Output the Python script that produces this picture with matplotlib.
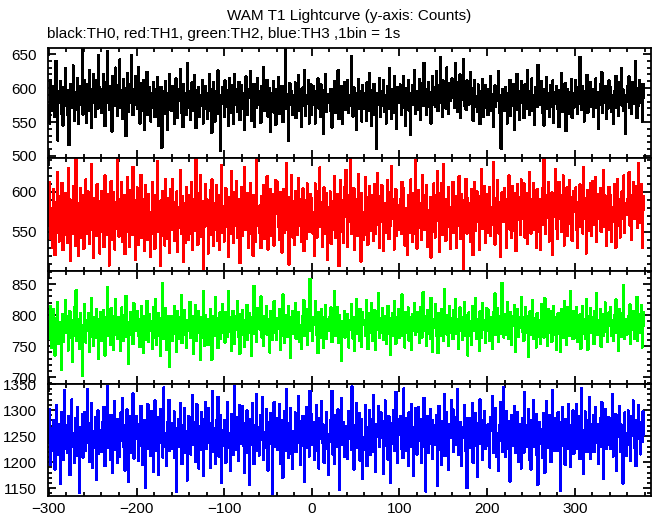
import matplotlib
matplotlib.use("Agg")
import matplotlib.pyplot as plt
from matplotlib.ticker import MultipleLocator
import numpy as np

# WAM T1 lightcurve, 1 bin = 1 s, time from -300 s
t_start = -300

th0 = [
    575, 548, 612, 566, 591, 603, 557, 584, 640, 571, 523, 596, 579, 610, 562, 588, 545, 601, 574, 629,
    583, 560, 597, 516, 578, 606, 589, 571, 633, 552, 594, 580, 568, 615, 547, 586, 603, 575, 659, 561,
    590, 612, 574, 549, 605, 583, 627, 566, 598, 541, 579, 620, 593, 557, 612, 585, 570, 648, 602, 576,
    563, 599, 621, 587, 544, 609, 578, 655, 592, 568, 603, 585, 536, 617, 596, 574, 630, 581, 559, 604,
    588, 642, 571, 597, 555, 613, 584, 600, 529, 591, 622, 565, 606, 579, 649, 587, 560, 598, 575, 618,
    594, 570, 631, 582, 548, 607, 589, 566, 612, 538, 596, 578, 624, 560, 585, 602, 551, 593, 571, 609,
    580, 557, 598, 574, 616, 545, 587, 569, 602, 512, 583, 595, 562, 610, 577, 539, 593, 568, 621, 584,
    566, 603, 579, 547, 590, 614, 572, 556, 598, 581, 628, 563, 589, 543, 606, 575, 592, 560, 637, 586,
    571, 595, 553, 608, 584, 566, 619, 578, 541, 597, 583, 602, 558, 590, 574, 612, 548, 585, 603, 569,
    592, 555, 581, 620, 567, 598, 534, 586, 609, 573, 551, 596, 580, 626, 562, 589, 507, 577, 601, 584,
    558, 611, 586, 572, 597, 544, 615, 579, 563, 604, 590, 547, 621, 576, 598, 565, 587, 609, 553, 580,
    604, 569, 592, 538, 583, 617, 574, 560, 599, 586, 625, 552, 591, 578, 606, 543, 588, 571, 614, 596,
    575, 590, 549, 603, 582, 631, 566, 596, 572, 612, 558, 584, 600, 535, 593, 579, 610, 564, 588, 546,
    598, 581, 616, 562, 587, 573, 603, 550, 594, 578, 658, 569, 591, 522, 585, 607, 576, 596, 561, 589,
    572, 608, 556, 592, 580, 619, 567, 598, 543, 584, 601, 574, 627, 559, 590, 577, 612, 548, 586, 605,
    561, 589, 603, 575, 548, 596, 582, 614, 570, 593, 557, 605, 586, 533, 597, 580, 621, 565, 591, 578,
    586, 567, 599, 542, 588, 576, 610, 563, 594, 581, 626, 554, 590, 572, 603, 547, 584, 609, 568, 595,
    579, 612, 563, 590, 574, 647, 583, 558, 601, 575, 592, 539, 586, 613, 569, 596, 580, 551, 604, 587,
    570, 593, 552, 608, 585, 566, 622, 578, 544, 597, 583, 606, 561, 589, 510, 592, 576, 615, 557, 584,
    596, 574, 611, 565, 590, 548, 603, 587, 570, 629, 581, 555, 598, 576, 617, 563, 589, 540, 601, 578,
    583, 605, 560, 594, 579, 618, 571, 545, 600, 586, 612, 567, 593, 531, 587, 604, 575, 626, 562, 590,
    568, 596, 582, 613, 553, 589, 607, 574, 637, 580, 598, 561, 586, 609, 572, 594, 548, 583, 618, 576,
    601, 573, 625, 589, 566, 604, 579, 645, 592, 557, 611, 584, 598, 570, 630, 588, 562, 607, 581, 595,
    614, 586, 599, 571, 636, 593, 565, 608, 580, 620, 556, 597, 583, 642, 574, 601, 568, 611, 589, 576,
    590, 623, 577, 600, 552, 594, 612, 573, 588, 565, 605, 582, 547, 596, 579, 613, 558, 587, 604, 571,
    584, 560, 598, 578, 617, 566, 591, 543, 586, 604, 572, 595, 581, 625, 563, 590, 511, 582, 599, 575,
    566, 602, 581, 548, 593, 575, 612, 559, 588, 574, 606, 539, 592, 580, 621, 568, 596, 553, 585, 610,
    578, 591, 556, 605, 584, 570, 627, 582, 561, 596, 579, 614, 567, 590, 546, 601, 587, 572, 634, 583,
    597, 575, 610, 563, 589, 545, 599, 581, 616, 570, 593, 558, 604, 585, 572, 611, 549, 594, 577, 603,
    569, 588, 543, 597, 580, 622, 565, 591, 574, 607, 537, 585, 599, 562, 594, 578, 613, 556, 587, 571,
    593, 612, 580, 562, 601, 577, 646, 589, 568, 603, 584, 551, 596, 575, 619, 564, 590, 582, 609, 573,
    581, 557, 599, 586, 614, 571, 594, 540, 588, 606, 576, 623, 563, 592, 579, 603, 554, 587, 570, 611,
    576, 601, 565, 590, 547, 596, 583, 618, 571, 594, 559, 608, 585, 629, 574, 598, 566, 589, 533, 580,
    603, 585, 617, 571, 594, 562, 609, 588, 577, 640, 583, 556, 600, 574, 612, 579, 595, 551, 606, 586,
]

th1 = [
    558, 612, 541, 579, 530, 603, 566, 521, 587, 549, 624, 570, 538, 594, 555, 611, 527, 582, 546, 598,
    573, 536, 629, 561, 590, 514, 577, 548, 607, 565, 532, 641, 553, 586, 520, 571, 604, 543, 596, 562,
    529, 583, 615, 547, 568, 600, 535, 579, 552, 634, 561, 518, 592, 574, 545, 609, 557, 588, 523, 576,
    601, 550, 566, 531, 620, 584, 546, 597, 563, 508, 580, 613, 540, 571, 599, 528, 587, 554, 642, 569,
    544, 591, 575, 612, 537, 560, 596, 522, 583, 550, 618, 565, 531, 602, 578, 546, 631, 559, 589, 515,
    567, 605, 534, 578, 553, 621, 542, 590, 570, 526, 608, 557, 585, 540, 597, 563, 519, 574, 612, 548,
    584, 529, 596, 561, 638, 550, 572, 507, 589, 545, 601, 576, 533, 615, 558, 592, 541, 579, 524, 603,
    552, 616, 570, 539, 587, 563, 600, 525, 581, 555, 627, 547, 594, 568, 512, 585, 536, 606, 571, 540,
    595, 548, 581, 612, 527, 566, 590, 551, 641, 573, 534, 598, 560, 620, 544, 579, 503, 588, 556, 609,
    563, 590, 523, 574, 602, 546, 615, 569, 532, 586, 553, 608, 539, 575, 596, 527, 563, 633, 549, 582,
    538, 571, 604, 556, 585, 519, 593, 547, 626, 567, 580, 536, 599, 558, 613, 542, 574, 590, 511, 561,
    606, 545, 577, 631, 552, 589, 562, 598, 530, 575, 611, 548, 583, 520, 596, 569, 537, 640, 557, 579,
    549, 583, 530, 594, 566, 608, 541, 576, 555, 619, 528, 587, 561, 603, 545, 578, 597, 533, 572, 614,
    577, 612, 556, 540, 599, 571, 524, 586, 603, 549, 568, 635, 552, 580, 509, 593, 560, 621, 543, 588,
    534, 567, 601, 579, 546, 617, 558, 591, 537, 573, 604, 526, 589, 564, 541, 610, 576, 550, 597, 565,
    592, 548, 574, 520, 610, 583, 543, 601, 568, 630, 556, 587, 531, 578, 605, 547, 572, 598, 515, 581,
    561, 600, 535, 588, 553, 574, 619, 542, 583, 562, 597, 507, 571, 614, 550, 589, 536, 605, 568, 627,
    583, 531, 596, 563, 642, 547, 579, 558, 604, 527, 590, 570, 545, 622, 560, 584, 513, 598, 575, 540,
    546, 618, 570, 593, 534, 581, 607, 551, 576, 596, 539, 564, 609, 548, 586, 623, 559, 530, 594, 572,
    608, 562, 526, 585, 571, 549, 614, 580, 541, 599, 557, 632, 566, 590, 528, 575, 603, 545, 583, 552,
    571, 590, 547, 612, 558, 604, 533, 579, 565, 521, 596, 583, 549, 615, 571, 537, 598, 561, 639, 546,
    529, 574, 602, 555, 586, 540, 621, 569, 595, 552, 583, 608, 531, 577, 562, 593, 518, 587, 550, 610,
    596, 543, 581, 626, 564, 598, 525, 572, 610, 546, 634, 568, 591, 539, 584, 556, 605, 573, 529, 580,
    560, 612, 549, 577, 594, 530, 583, 557, 619, 574, 541, 597, 565, 502, 589, 576, 616, 548, 592, 567,
    585, 537, 603, 566, 521, 589, 612, 551, 578, 600, 563, 527, 594, 581, 628, 554, 570, 607, 536, 597,
    549, 594, 572, 606, 545, 580, 559, 637, 566, 534, 592, 575, 614, 548, 587, 519, 571, 599, 562, 583,
    604, 568, 530, 591, 577, 620, 553, 586, 542, 607, 570, 551, 598, 526, 581, 609, 565, 593, 546, 615,
    566, 589, 610, 543, 572, 598, 535, 563, 624, 579, 548, 590, 573, 611, 552, 584, 530, 603, 576, 550,
    591, 527, 575, 604, 559, 641, 582, 547, 596, 567, 612, 538, 580, 557, 599, 521, 586, 569, 628, 554,
    541, 583, 612, 566, 596, 550, 578, 620, 533, 589, 564, 605, 545, 578, 614, 560, 593, 539, 574, 601,
    578, 605, 552, 530, 587, 571, 609, 556, 583, 548, 631, 566, 592, 523, 575, 602, 551, 588, 610, 545,
    613, 559, 590, 574, 618, 537, 566, 597, 571, 604, 550, 587, 570, 627, 556, 595, 532, 579, 563, 606,
    552, 596, 537, 581, 563, 609, 587, 530, 574, 616, 558, 591, 543, 583, 600, 566, 620, 549, 585, 571,
    590, 572, 624, 558, 595, 540, 583, 612, 566, 599, 575, 607, 555, 636, 582, 561, 609, 530, 594, 577,
]

th2 = [
    790, 762, 815, 748, 781, 809, 770, 735, 795, 776, 821, 754, 788, 768, 712, 779, 801, 757, 786, 824,
    771, 798, 743, 784, 806, 763, 792, 725, 779, 812, 767, 840, 758, 793, 775, 746, 803, 781, 702, 769,
    784, 817, 756, 791, 774, 803, 741, 787, 765, 827, 779, 750, 797, 772, 810, 763, 788, 730, 794, 805,
    758, 786, 808, 771, 735, 796, 782, 845, 766, 790, 752, 811, 777, 799, 744, 783, 826, 769, 792, 761,
    797, 770, 742, 812, 785, 759, 800, 778, 831, 765, 789, 722, 781, 804, 768, 794, 753, 819, 776, 787,
    775, 807, 766, 794, 749, 788, 815, 771, 739, 798, 780, 760, 823, 786, 757, 801, 774, 790, 746, 812,
    764, 789, 826, 752, 780, 803, 767, 734, 795, 776, 852, 762, 788, 811, 744, 779, 799, 770, 716, 785,
    799, 758, 783, 815, 770, 792, 741, 806, 778, 761, 797, 832, 755, 784, 769, 808, 782, 747, 791, 775,
    782, 821, 763, 774, 798, 737, 787, 816, 758, 793, 772, 806, 779, 728, 796, 764, 838, 776, 751, 800,
    768, 793, 752, 787, 810, 776, 728, 798, 784, 766, 829, 772, 795, 747, 781, 804, 761, 790, 818, 771,
    791, 756, 805, 780, 765, 839, 773, 796, 742, 784, 807, 768, 754, 799, 777, 822, 765, 788, 738, 802,
    773, 808, 769, 749, 792, 781, 816, 760, 786, 803, 772, 735, 797, 781, 847, 770, 790, 757, 811, 779,
    801, 777, 830, 764, 788, 751, 799, 784, 814, 769, 793, 776, 740, 806, 785, 760, 795, 822, 772, 787,
    760, 795, 778, 809, 744, 787, 767, 833, 779, 756, 800, 786, 765, 815, 773, 797, 731, 783, 806, 770,
    786, 819, 762, 793, 775, 805, 757, 783, 746, 798, 777, 824, 766, 790, 810, 752, 787, 774, 858, 781,
    774, 758, 797, 784, 822, 769, 791, 739, 805, 780, 763, 810, 788, 747, 796, 779, 816, 761, 793, 775,
    796, 783, 812, 757, 788, 774, 839, 766, 794, 813, 771, 755, 800, 785, 726, 790, 772, 807, 764, 798,
    769, 802, 748, 791, 776, 817, 783, 762, 797, 742, 788, 826, 770, 795, 758, 810, 781, 749, 804, 785,
    792, 767, 824, 780, 745, 803, 771, 796, 819, 759, 786, 773, 808, 744, 790, 777, 835, 763, 795, 772,
    778, 811, 760, 788, 799, 753, 787, 815, 770, 795, 736, 784, 803, 767, 823, 779, 754, 797, 782, 809,
    763, 794, 781, 833, 766, 790, 748, 805, 786, 772, 812, 759, 796, 781, 744, 801, 775, 819, 768, 788,
    805, 773, 796, 756, 812, 779, 764, 837, 774, 799, 786, 751, 808, 770, 795, 762, 828, 784, 741, 793,
    780, 818, 767, 792, 739, 803, 781, 766, 810, 788, 758, 842, 776, 800, 769, 790, 751, 814, 783, 772,
    795, 761, 808, 785, 826, 770, 793, 745, 785, 812, 775, 796, 760, 788, 821, 766, 800, 779, 735, 804,
    766, 790, 752, 815, 779, 800, 774, 828, 761, 794, 782, 743, 806, 789, 763, 819, 777, 792, 756, 811,
    787, 809, 775, 759, 797, 782, 746, 804, 773, 835, 768, 792, 811, 757, 784, 799, 770, 852, 781, 764,
    802, 768, 793, 821, 762, 789, 805, 777, 752, 798, 783, 816, 741, 790, 772, 809, 765, 796, 780, 829,
    773, 797, 759, 786, 813, 771, 798, 733, 784, 806, 769, 790, 824, 762, 795, 778, 748, 803, 787, 765,
    791, 754, 818, 776, 799, 764, 827, 780, 793, 750, 810, 772, 786, 806, 757, 781, 815, 769, 796, 744,
    778, 803, 770, 794, 741, 809, 785, 763, 822, 774, 797, 752, 813, 780, 766, 838, 775, 790, 761, 807,
    764, 788, 812, 757, 795, 779, 801, 746, 787, 815, 770, 793, 761, 826, 779, 744, 798, 784, 811, 772,
    797, 775, 753, 806, 783, 836, 768, 792, 777, 809, 749, 788, 802, 766, 795, 820, 773, 757, 790, 804,
    782, 813, 767, 791, 758, 800, 784, 825, 771, 796, 743, 810, 779, 765, 803, 787, 848, 762, 794, 776,
    769, 799, 785, 817, 753, 790, 776, 807, 762, 795, 781, 829, 758, 802, 772, 791, 816, 748, 805, 783,
]

th3 = [
    1238, 1302, 1195, 1266, 1221, 1280, 1247, 1186, 1259, 1310, 1215, 1273, 1232, 1158, 1261, 1296, 1204, 1250, 1338, 1226,
    1271, 1218, 1289, 1246, 1175, 1263, 1320, 1229, 1255, 1198, 1284, 1240, 1212, 1305, 1257, 1141, 1268, 1231, 1292, 1209,
    1253, 1296, 1222, 1265, 1340, 1237, 1201, 1274, 1248, 1313, 1189, 1259, 1228, 1286, 1166, 1245, 1299, 1216, 1262, 1234,
    1219, 1277, 1250, 1306, 1193, 1261, 1236, 1345, 1227, 1268, 1205, 1291, 1243, 1179, 1256, 1317, 1224, 1271, 1199, 1283,
    1262, 1210, 1295, 1241, 1323, 1230, 1270, 1184, 1254, 1301, 1236, 1163, 1267, 1289, 1218, 1249, 1332, 1207, 1276, 1244,
    1289, 1247, 1203, 1272, 1231, 1308, 1260, 1194, 1244, 1281, 1151, 1256, 1226, 1311, 1239, 1270, 1213, 1298, 1252, 1182,
    1235, 1318, 1263, 1221, 1287, 1176, 1249, 1302, 1238, 1269, 1209, 1343, 1255, 1230, 1192, 1276, 1246, 1319, 1222, 1261,
    1274, 1226, 1252, 1297, 1208, 1266, 1143, 1240, 1283, 1229, 1314, 1257, 1196, 1271, 1237, 1304, 1218, 1259, 1165, 1288,
    1247, 1286, 1215, 1262, 1328, 1233, 1277, 1201, 1255, 1311, 1242, 1188, 1269, 1224, 1296, 1250, 1174, 1282, 1235, 1316,
    1226, 1259, 1303, 1237, 1189, 1274, 1248, 1336, 1219, 1265, 1197, 1280, 1253, 1325, 1211, 1243, 1290, 1160, 1261, 1232,
    1281, 1242, 1199, 1268, 1316, 1228, 1256, 1183, 1292, 1238, 1270, 1214, 1346, 1251, 1223, 1287, 1203, 1264, 1309, 1236,
    1250, 1307, 1231, 1179, 1275, 1245, 1299, 1217, 1262, 1156, 1283, 1234, 1313, 1257, 1196, 1271, 1241, 1330, 1221, 1266,
    1213, 1269, 1290, 1243, 1325, 1205, 1258, 1227, 1301, 1248, 1184, 1276, 1235, 1294, 1262, 1140, 1253, 1315, 1230, 1285,
    1267, 1224, 1252, 1311, 1196, 1280, 1239, 1170, 1263, 1298, 1222, 1340, 1257, 1208, 1274, 1245, 1303, 1216, 1187, 1260,
    1243, 1295, 1219, 1265, 1237, 1326, 1254, 1194, 1278, 1231, 1289, 1248, 1162, 1270, 1305, 1227, 1256, 1211, 1337, 1249,
    1292, 1233, 1276, 1204, 1259, 1309, 1221, 1267, 1188, 1284, 1245, 1317, 1238, 1272, 1199, 1261, 1226, 1296, 1253, 1176,
    1238, 1280, 1253, 1337, 1215, 1262, 1197, 1290, 1247, 1229, 1301, 1263, 1147, 1256, 1322, 1233, 1277, 1210, 1269, 1241,
    1265, 1207, 1298, 1244, 1275, 1223, 1345, 1252, 1186, 1271, 1236, 1314, 1228, 1262, 1294, 1203, 1257, 1283, 1168, 1248,
    1224, 1310, 1239, 1192, 1268, 1251, 1299, 1214, 1282, 1242, 1329, 1219, 1266, 1181, 1273, 1248, 1307, 1230, 1260, 1295,
    1279, 1246, 1177, 1260, 1318, 1232, 1270, 1205, 1288, 1254, 1161, 1275, 1236, 1300, 1221, 1264, 1335, 1243, 1198, 1283,
    1252, 1289, 1226, 1274, 1208, 1341, 1249, 1284, 1221, 1266, 1193, 1295, 1258, 1230, 1312, 1245, 1173, 1268, 1303, 1237,
    1215, 1262, 1306, 1241, 1283, 1198, 1256, 1229, 1323, 1270, 1144, 1250, 1289, 1218, 1263, 1302, 1235, 1281, 1207, 1258,
    1270, 1233, 1290, 1155, 1248, 1308, 1224, 1266, 1195, 1279, 1243, 1331, 1212, 1260, 1296, 1239, 1185, 1272, 1250, 1319,
    1246, 1301, 1219, 1260, 1233, 1286, 1340, 1214, 1255, 1277, 1228, 1192, 1268, 1247, 1310, 1222, 1263, 1150, 1285, 1237,
    1284, 1227, 1265, 1313, 1199, 1251, 1231, 1294, 1257, 1171, 1274, 1243, 1320, 1235, 1280, 1204, 1259, 1298, 1226, 1267,
    1231, 1272, 1244, 1190, 1287, 1261, 1327, 1218, 1276, 1245, 1303, 1210, 1256, 1183, 1271, 1240, 1316, 1253, 1220, 1344,
    1263, 1210, 1298, 1254, 1226, 1279, 1163, 1248, 1290, 1232, 1267, 1308, 1217, 1258, 1236, 1296, 1201, 1273, 1249, 1188,
    1240, 1285, 1218, 1334, 1259, 1229, 1271, 1302, 1205, 1250, 1186, 1281, 1246, 1319, 1230, 1262, 1292, 1214, 1157, 1266,
    1277, 1235, 1263, 1209, 1294, 1245, 1180, 1268, 1317, 1227, 1258, 1291, 1238, 1200, 1274, 1338, 1243, 1221, 1285, 1252,
    1222, 1296, 1250, 1276, 1145, 1260, 1306, 1232, 1269, 1195, 1283, 1248, 1225, 1311, 1257, 1191, 1270, 1238, 1299, 1216,
    1268, 1241, 1312, 1226, 1255, 1289, 1206, 1265, 1342, 1234, 1178, 1261, 1297, 1244, 1219, 1280, 1253, 1324, 1207, 1273,
    1247, 1290, 1219, 1262, 1305, 1238, 1272, 1196, 1251, 1284, 1229, 1315, 1242, 1168, 1267, 1301, 1225, 1259, 1287, 1233,
    1284, 1226, 1258, 1330, 1211, 1275, 1240, 1292, 1183, 1264, 1249, 1307, 1220, 1272, 1236, 1159, 1261, 1295, 1245, 1212,
    1256, 1299, 1234, 1271, 1203, 1288, 1250, 1318, 1227, 1266, 1192, 1281, 1244, 1309, 1262, 1215, 1276, 1239, 1297, 1253,
]

series = [th0, th1, th2, th3]
colors = ["black", "#ff0000", "#00ff00", "#0000ff"]
ylims = [(497, 659), (501, 642), (689, 871), (1135, 1347)]
yticks = [[500, 550, 600, 650], [550, 600], [700, 750, 800, 850], [1150, 1200, 1250, 1300, 1350]]
xticks = [-300, -200, -100, 0, 100, 200, 300]

plt.rcParams['font.family'] = ['Liberation Sans', 'DejaVu Sans']
plt.rcParams['font.size'] = 11

fig = plt.figure(figsize=(6.52, 5.15), dpi=100)

# panel edges in pixels (top, bottom)
rows = [(48, 158), (158, 271), (271, 384), (384, 496)]
left, right = 48, 651
W, H = 652.0, 515.0

for i, y in enumerate(series):
    top, bot = rows[i]
    ax = fig.add_axes([left / W, 1 - bot / H, (right - left) / W, (bot - top) / H])
    x = np.arange(t_start, t_start + len(y))
    ax.step(x, y, where='mid', color=colors[i], lw=1.0, antialiased=False)
    ax.set_xlim(-301, 387)
    ax.set_ylim(ylims[i])
    ax.set_yticks(yticks[i])
    ax.set_xticks(xticks)
    ax.xaxis.set_minor_locator(MultipleLocator(20))
    ax.yaxis.set_minor_locator(MultipleLocator(10))
    ax.tick_params(which='both', direction='in', top=True, right=True, width=1.3)
    ax.tick_params(which='major', length=6)
    ax.tick_params(which='minor', length=3)
    ax.tick_params(axis='y', pad=8, labelsize=11)
    ax.tick_params(axis='x', pad=4, labelsize=11)
    for s in ax.spines.values():
        s.set_linewidth(1.3)
    if i < 3:
        ax.set_xticklabels([])

fig.text(349 / W, 1 - 16 / H, "WAM T1 Lightcurve (y-axis: Counts)", ha='center', va='center', fontsize=11)
fig.text(47 / W, 1 - 34 / H, "black:TH0, red:TH1, green:TH2, blue:TH3 ,1bin = 1s", ha='left', va='center', fontsize=11)

plt.savefig("out.png", dpi=100)
plt.close()
